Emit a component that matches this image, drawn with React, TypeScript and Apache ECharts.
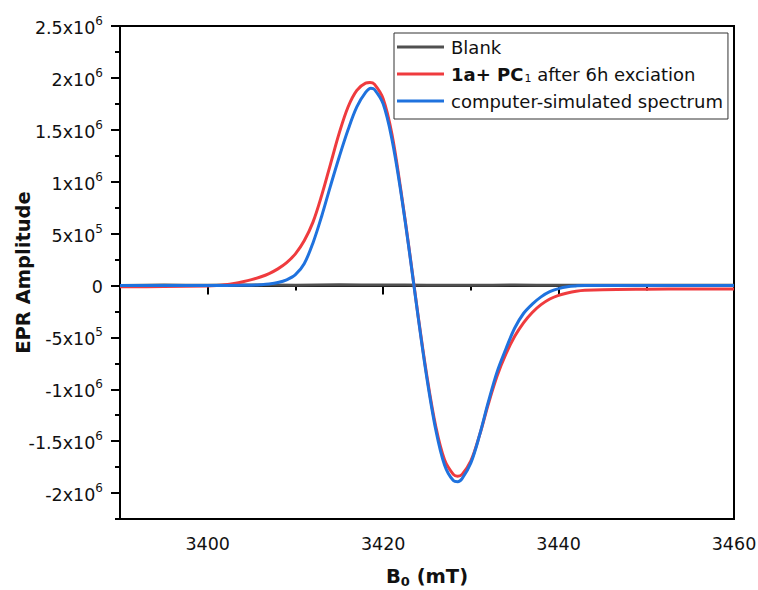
import React, { useEffect, useRef } from "react";
import * as echarts from "echarts";

// Magnetic field (mT) and EPR amplitude (raw units)
const blankField = [3390, 3395, 3400, 3405, 3410, 3415, 3420, 3425, 3430, 3435, 3440, 3445, 3450, 3455, 3460];
const blankAmp = [0, 4000, 2000, 5000, 3000, 6000, 4000, 3000, 2000, 4000, 1000, 3000, 2000, 1000, 2000];

const sampleField = [
  3390, 3395, 3400, 3401, 3402, 3403, 3404, 3405, 3406, 3407, 3408, 3409, 3410, 3411, 3412, 3413, 3414, 3415,
  3416, 3417, 3418, 3418.5, 3419, 3420, 3421, 3422, 3423, 3424, 3425, 3426, 3427, 3428, 3428.5, 3429, 3430,
  3431, 3432, 3433, 3434, 3435, 3436, 3437, 3438, 3439, 3440, 3441, 3442, 3443, 3445, 3450, 3455, 3460,
];
const sampleAmp = [
  -12000, -10000, -4000, 0, 8000, 20000, 36000, 56000, 82000, 115000, 160000, 220000, 305000, 430000,
  610000, 870000, 1170000, 1470000, 1720000, 1880000, 1950000, 1956000, 1940000, 1800000, 1460000, 930000,
  330000, -300000, -880000, -1360000, -1680000, -1820000, -1838000, -1820000, -1690000, -1440000, -1140000,
  -870000, -660000, -490000, -360000, -260000, -185000, -130000, -95000, -72000, -56000, -47000, -40000,
  -36000, -34000, -34000,
];

const simField = [
  3390, 3400, 3404, 3405, 3406, 3407, 3408, 3409, 3410, 3411, 3412, 3413, 3414, 3415, 3416, 3417, 3418, 3418.6,
  3419, 3420, 3421, 3422, 3423, 3424, 3425, 3426, 3427, 3428, 3428.5, 3429, 3430, 3431, 3432, 3433, 3434, 3435,
  3436, 3437, 3438, 3439, 3440, 3441, 3442, 3443, 3450, 3460,
];
const simAmp = [
  0, 0, 1000, 3000, 7000, 14000, 28000, 55000, 105000, 210000, 410000, 670000, 960000, 1240000, 1500000,
  1720000, 1860000, 1900000, 1890000, 1750000, 1410000, 910000, 320000, -310000, -900000, -1390000, -1730000,
  -1880000, -1890000, -1860000, -1710000, -1440000, -1120000, -830000, -610000, -410000, -270000, -180000,
  -110000, -60000, -30000, -12000, -4000, 0, 0, 0,
];

const xMajorTicks = [3400, 3420, 3440, 3460];
const xMinorTicks = [3390, 3410, 3430, 3450];
const yMajorTicks = [-2000000, -1500000, -1000000, -500000, 0, 500000, 1000000, 1500000, 2000000, 2500000];
const yMinorTicks = [-2250000, -1750000, -1250000, -750000, -250000, 250000, 750000, 1250000, 1750000, 2250000];

const seriesNames = ["Blank", "sample", "simulated"];
const seriesColors = ["#505050", "#EF3B3E", "#1F72DE"];

const FONT = "DejaVu Sans, Liberation Sans, sans-serif";
const TXT = "#111";

function yLabel(v: number): string {
  if (v === 0) return "{n|0}";
  const sign = v < 0 ? "-" : "";
  const a = Math.abs(v);
  const exp = Math.floor(Math.log10(a) + 1e-9);
  const mant = +(a / Math.pow(10, exp)).toFixed(2);
  return `{n|${sign}${mant}x10}{s|${exp}}`;
}

function legendLabel(name: string): string {
  if (name === "Blank") return "{n|Blank}";
  if (name === "sample") return "{b|1a+ PC}{sub|1}{n| after 6h exciation}";
  return "{n|computer-simulated spectrum}";
}

export default function App() {
  const ref = useRef<HTMLDivElement>(null);
  useEffect(() => {
    if (!ref.current) return;
    const chart = echarts.init(ref.current, undefined, { renderer: "svg" });
    const pairs = (xs: number[], ys: number[]) => xs.map((x, i) => [x, ys[i]]);
    chart.setOption({
      animation: false,
      backgroundColor: "#ffffff",
      grid: {
        left: 120,
        right: 24,
        top: 26,
        bottom: 71,
        containLabel: false,
        outerBoundsMode: "none",
        show: true,
        borderColor: "#000",
        borderWidth: 2,
        backgroundColor: "transparent",
      },
      legend: {
        orient: "vertical",
        left: 394,
        top: 33,
        padding: [5, 5, 9, 3],
        itemGap: 8,
        itemWidth: 47,
        itemHeight: 3,
        icon: "rect",
        borderColor: "#333",
        borderWidth: 1,
        backgroundColor: "#fff",
        data: seriesNames,
        formatter: legendLabel,
        textStyle: {
          fontFamily: FONT,
          fontSize: 18,
          color: TXT,
          padding: [0, 0, 0, 2],
          rich: {
            n: { fontFamily: FONT, fontSize: 18, color: TXT, lineHeight: 22 },
            b: { fontFamily: FONT, fontSize: 18, fontWeight: "bold", color: TXT, lineHeight: 22 },
            sub: { fontFamily: FONT, fontSize: 11, color: TXT, lineHeight: 22, padding: [9, 0, 0, 1] },
          },
        },
      },
      xAxis: [
        {
          type: "value",
          min: 3390,
          max: 3460,
          interval: 10,
          position: "bottom",
          name: "{b|B}{sub|0}{b| (mT)}",
          nameLocation: "middle",
          nameGap: 46,
          nameMoveOverlap: false,
          nameTextStyle: {
            fontFamily: FONT,
            rich: {
              b: { fontFamily: FONT, fontSize: 19.5, fontWeight: "bold", color: TXT },
              sub: { fontFamily: FONT, fontSize: 13, fontWeight: "bold", color: TXT, padding: [10, 0, 0, 0] },
            },
          },
          axisLine: { show: true, lineStyle: { color: "#000", width: 2 } },
          axisTick: { show: true, customValues: xMajorTicks, length: 9, lineStyle: { color: "#000", width: 2 } },
          axisLabel: {
            customValues: xMajorTicks,
            margin: 16,
            fontFamily: FONT,
            fontSize: 17.5,
            color: TXT,
            formatter: (v: number) => String(v),
          },
          splitLine: { show: false },
        },
        {
          type: "value",
          min: 3390,
          max: 3460,
          interval: 10,
          position: "bottom",
          axisLine: { show: false },
          axisTick: { show: true, customValues: xMinorTicks, length: 5, lineStyle: { color: "#000", width: 2 } },
          axisLabel: { show: false },
          splitLine: { show: false },
        },
      ],
      yAxis: [
        {
          type: "value",
          min: -2250000,
          max: 2500000,
          interval: 250000,
          position: "left",
          name: "EPR Amplitude",
          nameLocation: "middle",
          nameRotate: 90,
          nameGap: 87,
          nameMoveOverlap: false,
          nameTextStyle: { fontFamily: FONT, fontSize: 19.5, fontWeight: "bold", color: TXT },
          axisLine: { show: true, lineStyle: { color: "#000", width: 2 } },
          axisTick: { show: true, customValues: yMajorTicks, length: 9, lineStyle: { color: "#000", width: 2 } },
          axisLabel: {
            customValues: yMajorTicks,
            margin: 17,
            formatter: yLabel,
            rich: {
              n: { fontFamily: FONT, fontSize: 17.5, color: TXT, lineHeight: 22, verticalAlign: "bottom" },
              s: { fontFamily: FONT, fontSize: 12, color: TXT, lineHeight: 12, verticalAlign: "top" },
            },
          },
          splitLine: { show: false },
        },
        {
          type: "value",
          min: -2250000,
          max: 2500000,
          interval: 250000,
          position: "left",
          axisLine: { show: false },
          axisTick: { show: true, customValues: yMinorTicks, length: 5, lineStyle: { color: "#000", width: 2 } },
          axisLabel: { show: false },
          splitLine: { show: false },
        },
      ],
      series: [
        {
          name: seriesNames[0],
          type: "line",
          data: pairs(blankField, blankAmp),
          showSymbol: false,
          smooth: 0.3,
          lineStyle: { color: seriesColors[0], width: 3 },
          itemStyle: { color: seriesColors[0] },
          z: 2,
        },
        {
          name: seriesNames[1],
          type: "line",
          data: pairs(sampleField, sampleAmp),
          showSymbol: false,
          smooth: 0.35,
          lineStyle: { color: seriesColors[1], width: 3 },
          itemStyle: { color: seriesColors[1] },
          z: 3,
        },
        {
          name: seriesNames[2],
          type: "line",
          data: pairs(simField, simAmp),
          showSymbol: false,
          smooth: 0.35,
          lineStyle: { color: seriesColors[2], width: 3 },
          itemStyle: { color: seriesColors[2] },
          z: 4,
        },
      ],
    });
    return () => chart.dispose();
  }, []);
  return <div ref={ref} style={{ width: 758, height: 590, position: "absolute", left: 0, top: 0 }} />;
}
